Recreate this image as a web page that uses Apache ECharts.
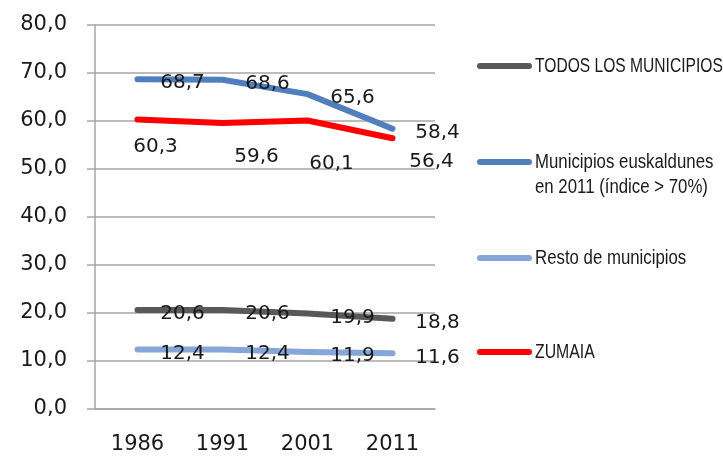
<!DOCTYPE html>
<html>
<head>
<meta charset="utf-8">
<script src="https://cdn.jsdelivr.net/npm/echarts@6/dist/echarts.min.js"></script>
<style>
  html, body { margin: 0; padding: 0; background: #fff; }
  #main { width: 723px; height: 459px; }
</style>
</head>
<body>
<div id="main"></div>
<script>
// datos
const years = ['1986', '1991', '2001', '2011'];
const seriesNames = ['TODOS LOS MUNICIPIOS', 'Municipios euskaldunes\nen 2011 (índice > 70%)', 'Resto de municipios', 'ZUMAIA'];
const todos = [20.6, 20.6, 19.9, 18.8];
const euskaldunes = [68.7, 68.6, 65.6, 58.4];
const resto = [12.4, 12.4, 11.9, 11.6];
const zumaia = [60.3, 59.6, 60.1, 56.4];

// desplazamiento de las etiquetas de ZUMAIA (colocadas a mano en el original)
const zumaiaLabelShift = [[18, 27], [34, 34], [24, 43], [39, 24]];

const colors = ['#595959', '#4f7fbc', '#86a6d8', '#ff0000'];
const gridColor = '#a6a6a6';
const numFont = 'DejaVu Sans';

const fmt = v => v.toFixed(1).replace('.', ',');

const myChart = echarts.init(document.getElementById('main'));

function lineSeries(i, values, shift) {
  return {
    name: seriesNames[i],
    type: 'line',
    symbol: 'circle',
    symbolSize: 2,
    color: colors[i],
    lineStyle: { width: 6, color: colors[i], cap: 'round', join: 'round' },
    itemStyle: { color: colors[i] },
    label: {
      show: true,
      position: 'inside',
      offset: [45, 4],
      color: '#1a1a1a',
      fontFamily: numFont,
      fontSize: 20,
      formatter: p => fmt(p.value)
    },
    data: values.map((v, k) => shift ? { value: v, label: { offset: shift[k] } } : v)
  };
}

// leyenda a mano: en el original la fuente es estrecha (tipo Arial Narrow)
const legendRows = [66, 162, 258, 352];
const legendSqueeze = [0.78, 0.84, 0.84, 0.79];
const legendGraphic = [];
seriesNames.forEach((name, i) => {
  legendGraphic.push({
    type: 'rect',
    x: 477, y: legendRows[i] - 3,
    shape: { width: 55, height: 6, r: 3 },
    style: { fill: colors[i] }
  });
  legendGraphic.push({
    type: 'text',
    x: 535, y: legendRows[i] - 12,
    scaleX: legendSqueeze[i],
    style: {
      text: name,
      fontFamily: 'Liberation Sans',
      fontSize: 20,
      lineHeight: 25,
      fill: '#1a1a1a',
      verticalAlign: 'top'
    }
  });
});

const option = {
  animation: false,
  backgroundColor: '#fff',
  grid: { left: 95, right: 288, top: 25, bottom: 50 },
  graphic: legendGraphic,
  xAxis: {
    type: 'category',
    data: years,
    boundaryGap: true,
    axisLine: { lineStyle: { color: gridColor, width: 1.5 } },
    axisTick: { length: 7, lineStyle: { color: gridColor, width: 1.5 } },
    axisLabel: { color: '#1a1a1a', fontFamily: numFont, fontSize: 21, margin: 25 }
  },
  yAxis: {
    type: 'value',
    min: 0,
    max: 80,
    interval: 10,
    axisLine: { show: true, lineStyle: { color: gridColor, width: 1.5 } },
    axisTick: { show: true, length: 8, lineStyle: { color: gridColor, width: 1.5 } },
    splitLine: { lineStyle: { color: gridColor, width: 1.5 } },
    axisLabel: { color: '#1a1a1a', fontFamily: numFont, fontSize: 21, margin: 28, formatter: v => fmt(v) }
  },
  series: [
    lineSeries(0, todos),
    lineSeries(1, euskaldunes),
    lineSeries(2, resto),
    lineSeries(3, zumaia, zumaiaLabelShift)
  ]
};

myChart.setOption(option);
</script>
</body>
</html>
